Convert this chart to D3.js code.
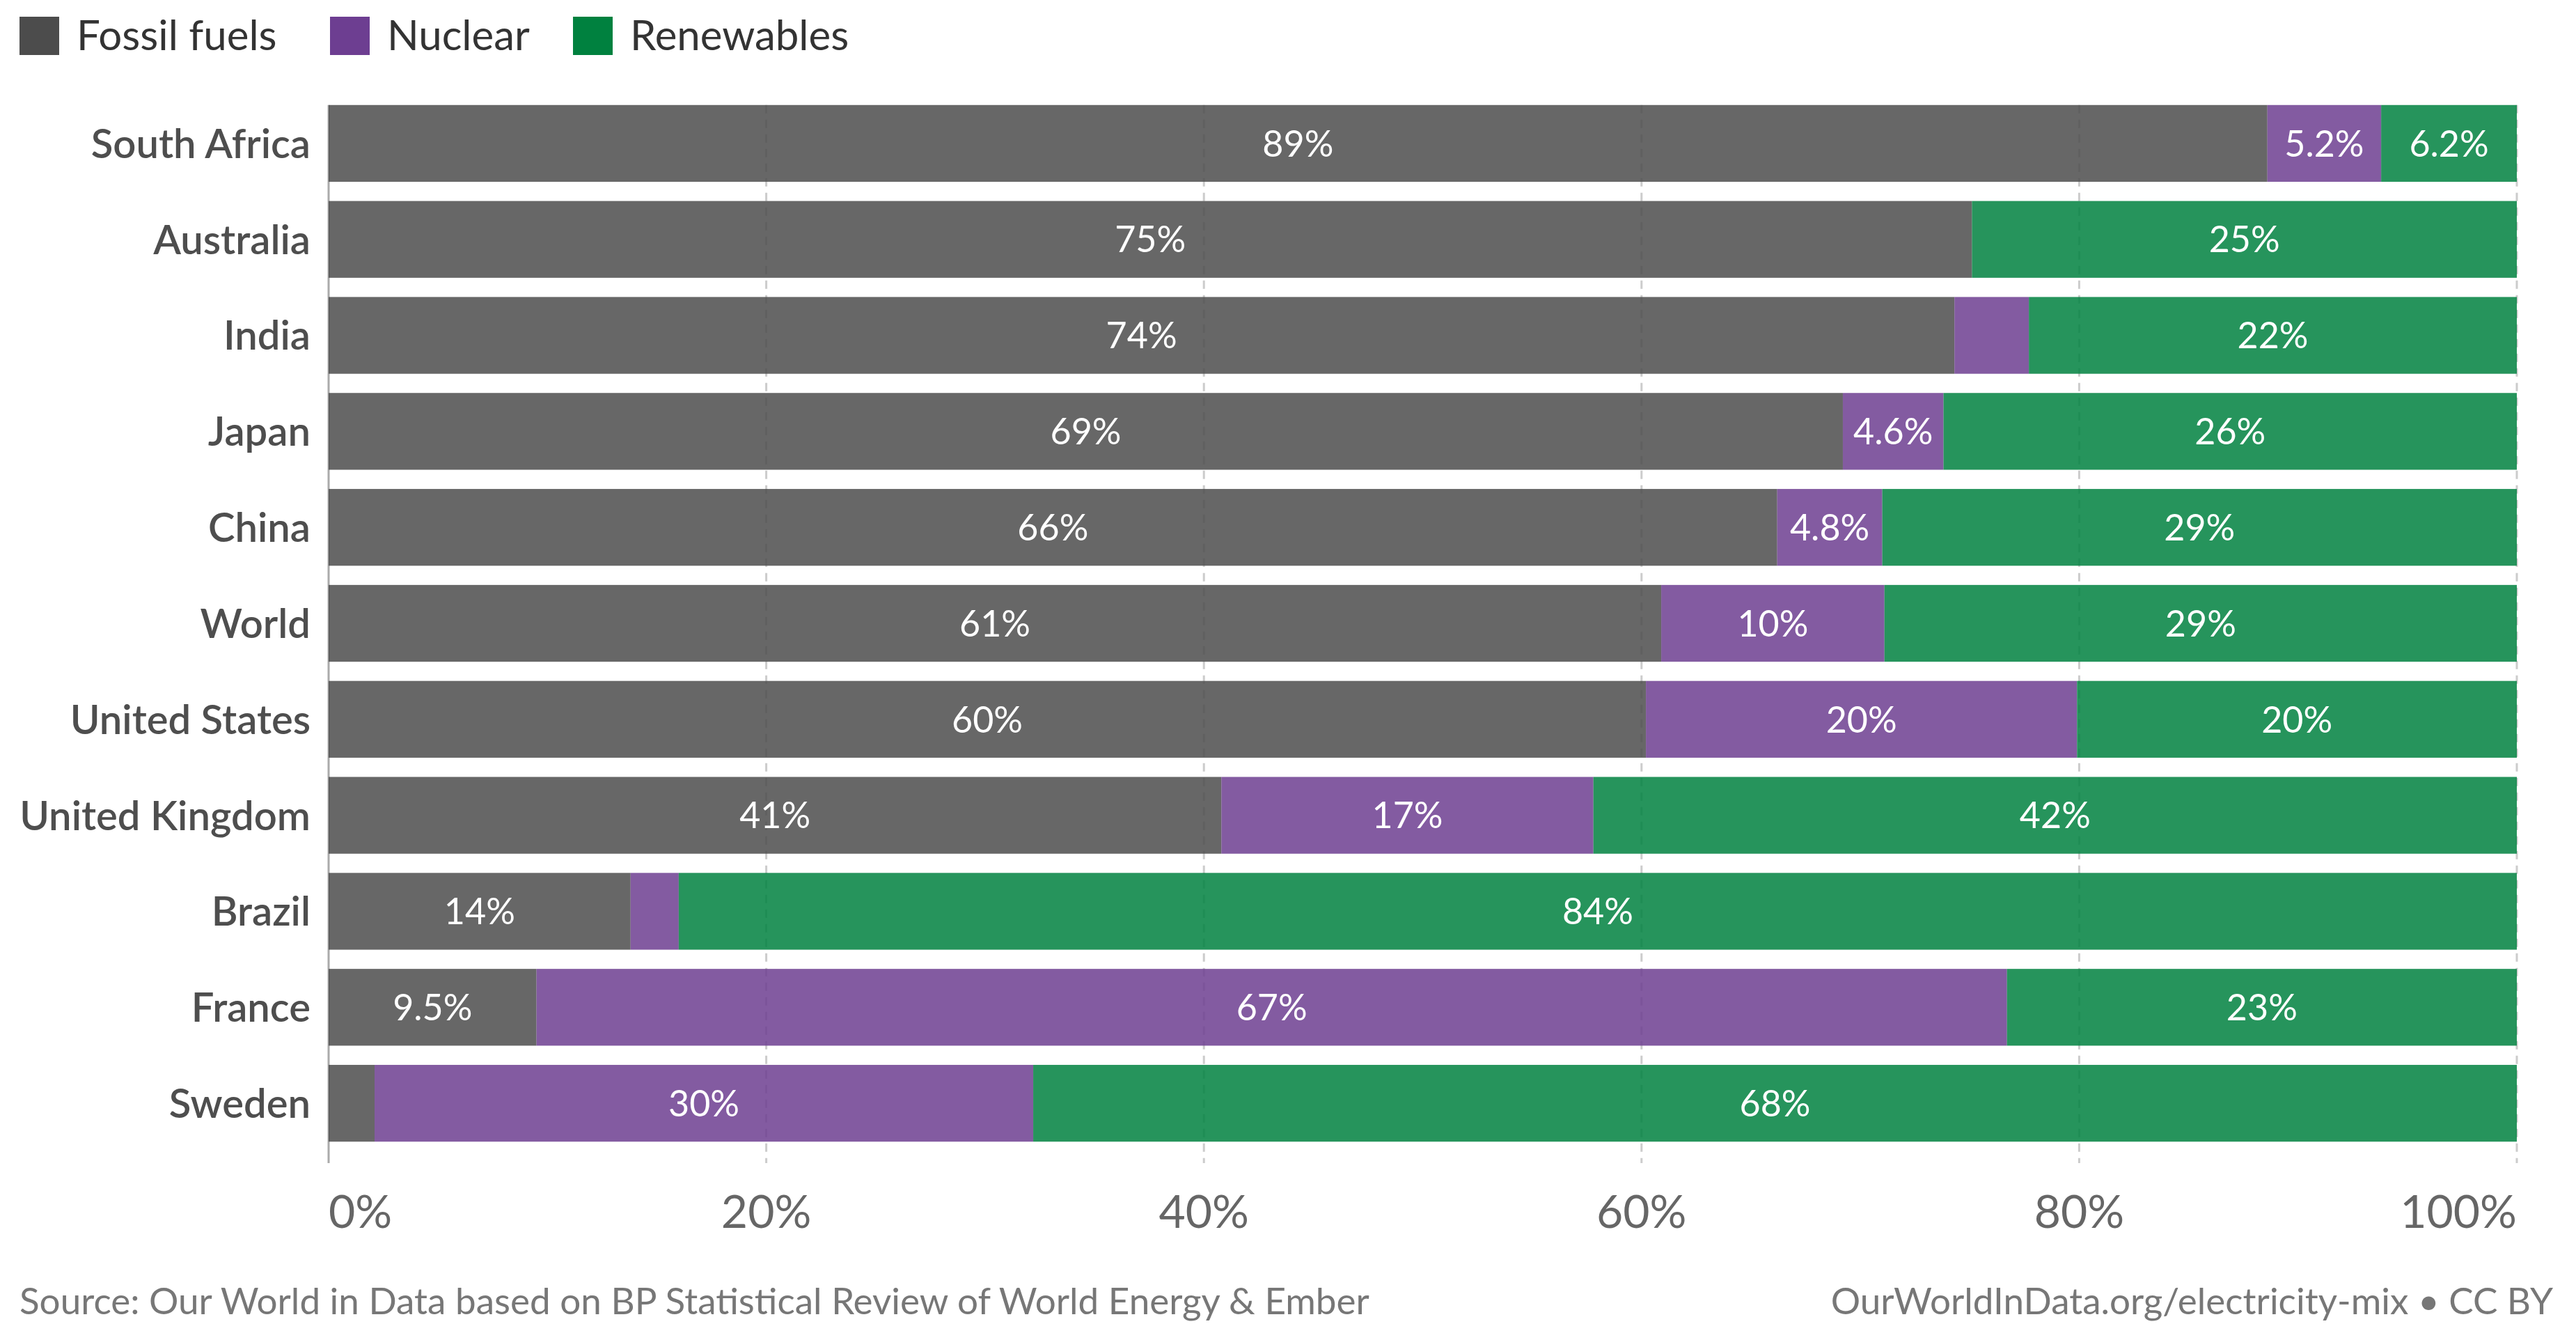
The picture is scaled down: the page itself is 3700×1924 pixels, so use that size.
<!DOCTYPE html>
<html>
<head>
<meta charset="utf-8">
<script src="https://cdn.jsdelivr.net/npm/d3@7"></script>
<style>
  body { margin: 0; background: #fff; }
  svg { font-family: Lato, "Noto Sans", sans-serif; display: block; }
</style>
</head>
<body>
<svg id="chart"></svg>
<script>
const countries = ["South Africa", "Australia", "India", "Japan", "China", "World",
    "United States", "United Kingdom", "Brazil", "France", "Sweden"];
const fossil =     [88.6, 75.1, 74.3, 69.2, 66.2, 60.9, 60.2, 40.8, 13.8, 9.5, 2.1];
const nuclear =    [5.2, 0, 3.4, 4.6, 4.8, 10.2, 19.7, 17.0, 2.2, 67.2, 30.1];
const renewables = [6.2, 24.9, 22.3, 26.2, 29.0, 28.9, 20.1, 42.2, 84.0, 23.3, 67.8];
const seriesNames = ["Fossil fuels", "Nuclear", "Renewables"];
const seriesColors = ["#4c4c4c", "#6d3e91", "#00813f"];
const xTicks = [0, 20, 40, 60, 80, 100];

const width = 3700;
const height = 1924;
const margin = { top: 137, right: 85, bottom: 271, left: 472 };

const svg = d3.select("#chart")
    .attr("width", width)
    .attr("height", height);

const rows = countries.map((c, i) => ({ country: c, fossil: fossil[i], nuclear: nuclear[i], renewables: renewables[i] }));
const keys = ["fossil", "nuclear", "renewables"];
const stacked = d3.stack().keys(keys)(rows);

const x = d3.scaleLinear().domain([0, 100]).range([margin.left, width - margin.right]);
const y = d3.scaleBand().domain(countries)
    .range([margin.top, height - margin.bottom])
    .paddingInner(0.2).paddingOuter(0.1);

const color = d3.scaleOrdinal().domain(keys).range(seriesColors);

// gridlines
const gridTop = y(countries[0]);
const gridBottom = 1670;
svg.append("g").selectAll("line")
    .data(xTicks)
    .enter().append("line")
    .attr("x1", d => x(d)).attr("x2", d => x(d))
    .attr("y1", gridTop).attr("y2", gridBottom)
    .attr("stroke", d => d === 0 ? "#aaa" : "#ccc")
    .attr("stroke-width", 3)
    .attr("stroke-dasharray", d => d === 0 ? null : "12,9");

// bars
const layer = svg.append("g").selectAll("g")
    .data(stacked)
    .enter().append("g")
    .attr("fill", d => color(d.key));

layer.selectAll("rect")
    .data(d => d)
    .enter().append("rect")
    .attr("x", d => x(d[0]))
    .attr("y", d => y(d.data.country))
    .attr("width", d => x(d[1]) - x(d[0]))
    .attr("height", y.bandwidth())
    .attr("fill-opacity", 0.85);

// value labels
const fmt = v => v >= 10 ? Math.round(v) + "%" : v.toFixed(1) + "%";
stacked.forEach(s => {
    svg.append("g").selectAll("text")
        .data(s)
        .enter().append("text")
        .attr("x", d => (x(d[0]) + x(d[1])) / 2)
        .attr("y", d => y(d.data.country) + y.bandwidth() / 2)
        .attr("dy", "0.36em")
        .attr("text-anchor", "middle")
        .attr("fill", "#fff")
        .attr("font-size", 52)
        .text(d => fmt(d[1] - d[0]))
        .each(function (d) {
            const w = x(d[1]) - x(d[0]);
            if (this.getComputedTextLength() + 20 > w) d3.select(this).remove();
        });
});

// country labels
svg.append("g").selectAll("text")
    .data(countries)
    .enter().append("text")
    .attr("x", 446)
    .attr("y", d => y(d) + y.bandwidth() / 2)
    .attr("dy", "0.36em")
    .attr("text-anchor", "end")
    .attr("fill", "#4e4e4e")
    .attr("font-size", 58)
    .attr("font-weight", 600)
    .text(d => d);

// x axis labels
svg.append("g").selectAll("text")
    .data(xTicks)
    .enter().append("text")
    .attr("x", d => x(d))
    .attr("y", 1763)
    .attr("text-anchor", (d, i) => i === 0 ? "start" : i === xTicks.length - 1 ? "end" : "middle")
    .attr("fill", "#666")
    .attr("font-size", 66)
    .text(d => d + "%");

// legend
const legend = svg.append("g");
const legendX = [28, 474, 823];
seriesNames.forEach((name, i) => {
    legend.append("rect")
        .attr("x", legendX[i]).attr("y", 24)
        .attr("width", 57).attr("height", 55)
        .attr("fill", seriesColors[i]);
    legend.append("text")
        .attr("x", legendX[i] + 82).attr("y", 72)
        .attr("font-size", 60)
        .attr("fill", "#333")
        .text(name);
});

// footer
svg.append("text")
    .attr("x", 28).attr("y", 1887)
    .attr("font-size", 53)
    .attr("fill", "#777")
    .text("Source: Our World in Data based on BP Statistical Review of World Energy & Ember");
svg.append("text")
    .attr("x", 3667).attr("y", 1887)
    .attr("text-anchor", "end")
    .attr("font-size", 53)
    .attr("fill", "#777")
    .text("OurWorldInData.org/electricity-mix • CC BY");
</script>
</body>
</html>
